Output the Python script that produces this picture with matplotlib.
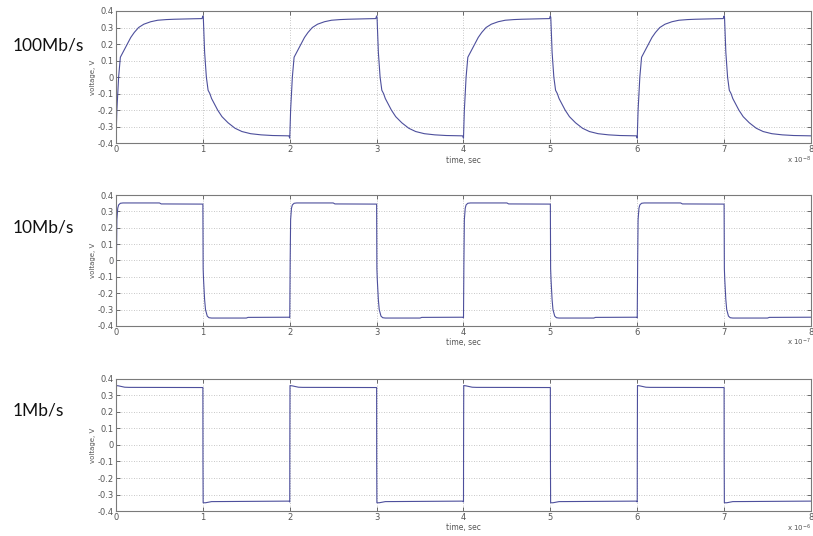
import numpy as np
import matplotlib
matplotlib.use("Agg")
import matplotlib.pyplot as plt

# ---- waveform samples (one bit period = rise half + fall half) ----
# 100 Mb/s, time in units of 1e-8 s
r100_t = [0.00, 0.01, 0.03, 0.05, 0.07, 0.10, 0.13, 0.17, 0.21, 0.26, 0.32, 0.40, 0.48, 0.58, 0.67, 0.80, 0.90, 0.99]
r100_v = [-0.37, -0.20, 0.00, 0.12, 0.14, 0.17, 0.20, 0.24, 0.27, 0.30, 0.32, 0.335, 0.344, 0.348, 0.350, 0.352, 0.353, 0.354]
f100_t = [1.00, 1.005, 1.02, 1.04, 1.06, 1.08, 1.10, 1.13, 1.17, 1.22, 1.29, 1.37, 1.45, 1.55, 1.67, 1.80, 1.90, 1.99]
f100_v = [0.37, 0.36, 0.15, 0.00, -0.08, -0.10, -0.13, -0.16, -0.20, -0.24, -0.277, -0.31, -0.33, -0.343, -0.350, -0.354, -0.355, -0.356]

# 10 Mb/s, time in units of 1e-7 s
r10_t = [0.00, 0.005, 0.01, 0.02, 0.03, 0.05, 0.08, 0.50, 0.52, 0.99]
r10_v = [-0.35, 0.00, 0.25, 0.32, 0.34, 0.35, 0.352, 0.352, 0.346, 0.345]
f10_t = [1.00, 1.003, 1.008, 1.02, 1.03, 1.05, 1.07, 1.10, 1.50, 1.52, 1.99]
f10_v = [0.345, -0.05, -0.12, -0.24, -0.30, -0.34, -0.35, -0.352, -0.352, -0.348, -0.347]

# 1 Mb/s, time in units of 1e-6 s
r1_t = [0.00, 0.001, 0.003, 0.03, 0.10, 0.15, 0.99]
r1_v = [-0.345, 0.00, 0.36, 0.358, 0.35, 0.349, 0.348]
f1_t = [1.00, 1.001, 1.003, 1.03, 1.10, 1.99]
f1_v = [0.348, -0.10, -0.35, -0.35, -0.343, -0.34]

start_values = [-0.37, -0.25, 0.0]
rate_labels = ["100Mb/s", "10Mb/s", "1Mb/s"]
exponents = [-8, -7, -6]
n_periods = 4
period = 2.0

yticks = [-0.4, -0.3, -0.2, -0.1, 0, 0.1, 0.2, 0.3, 0.4]
ytick_labels = ["-0.4", "-0.3", "-0.2", "-0.1", "0", "0.1", "0.2", "0.3", "0.4"]
xticks = [0, 1, 2, 3, 4, 5, 6, 7, 8]


def build(rt, rv, ft, fv, v0):
    t = []
    v = []
    for k in range(n_periods):
        off = k * period
        t += [x + off for x in rt] + [x + off for x in ft]
        v += list(rv) + list(fv)
    v[0] = v0
    t.append(n_periods * period)
    v.append(v[-1])
    return np.array(t), np.array(v)


series = [
    build(r100_t, r100_v, f100_t, f100_v, start_values[0]),
    build(r10_t, r10_v, f10_t, f10_v, start_values[1]),
    build(r1_t, r1_v, f1_t, f1_v, start_values[2]),
]

fig = plt.figure(figsize=(8.13, 5.36), dpi=100)
left, width = 0.1427, 0.8548
boxes = [(0.733, 0.2465), (0.392, 0.244), (0.0466, 0.2464)]
line_color = "#4d4f9c"
frame_color = "#7a7a7a"
label_y = [0.916, 0.575, 0.235]

for i, ((t, v), (b, h)) in enumerate(zip(series, boxes)):
    ax = fig.add_axes([left, b, width, h])
    ax.plot(t, v, color=line_color, lw=0.8)
    ax.set_xlim(0, 8)
    ax.set_ylim(-0.4, 0.4)
    ax.set_xticks(xticks)
    ax.set_xticklabels([str(x) for x in xticks])
    ax.set_yticks(yticks)
    ax.set_yticklabels(ytick_labels)
    ax.grid(True, linestyle=(0, (1, 2)), color="#b5b5b5", lw=0.6)
    ax.tick_params(direction="in", length=3, width=0.6, labelsize=6,
                   colors="#555555", top=True, right=True, pad=1.5)
    for s in ax.spines.values():
        s.set_color(frame_color)
        s.set_linewidth(0.8)
    ax.set_ylabel("voltage, V", fontsize=5, color="#555555", labelpad=1)
    ax.set_xlabel("time, sec", fontsize=5.5, color="#555555", labelpad=1)
    ax.text(1.0, -0.085, r"x 10$^{%d}$" % exponents[i], transform=ax.transAxes,
            ha="right", va="top", fontsize=5, color="#555555")
    fig.text(0.015, label_y[i], rate_labels[i], fontsize=12.5, family="Lato",
             ha="left", va="center", color="#111111")

fig.savefig("out.png", dpi=100)
